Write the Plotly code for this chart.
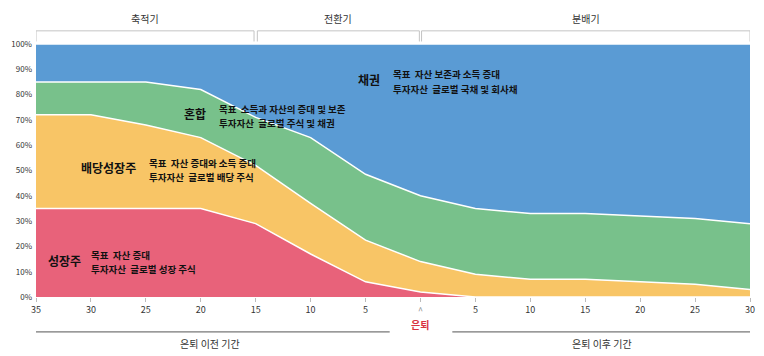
import plotly.graph_objects as go

# x positions: negative = years before retirement, positive = years after
x_vals = [-35, -30, -25, -20, -15, -10, -5, 0, 5, 10, 15, 20, 25, 30]
tick_text = ["35", "30", "25", "20", "15", "10", "5", "", "5", "10", "15", "20", "25", "30"]

growth = [35, 35, 35, 35, 29, 17, 6, 2, 0, 0, 0, 0, 0, 0]            # 성장주
dividend = [37, 37, 33, 28, 23, 20, 16.5, 12, 9, 7, 7, 6, 5, 3]     # 배당성장주
mixed = [13, 13, 17, 19, 19, 26, 26, 26, 26, 26, 26, 26, 26, 26]    # 혼합
bonds = [15, 15, 15, 18, 29, 37, 51.5, 60, 65, 67, 67, 68, 69, 71]  # 채권

series_names = ["성장주", "배당성장주", "혼합", "채권"]
series_vals = [growth, dividend, mixed, bonds]
colors = ["#e8627a", "#f8c566", "#78c18b", "#5a9bd4"]

phases = [("축적기", -35, -15.15), ("전환기", -14.85, -0.1), ("분배기", 0.1, 30)]

FONT = "Noto Sans CJK KR"

fig = go.Figure()
for name, vals, col in zip(series_names, series_vals, colors):
    fig.add_trace(go.Scatter(
        x=x_vals, y=vals, name=name, mode="lines", stackgroup="one",
        line=dict(color="white", width=1.5), fillcolor=col, hoverinfo="skip"))

shapes = []
annotations = []
# phase brackets on top
for label, a, b in phases:
    shapes.append(dict(type="path", xref="x", yref="paper",
                       path=f"M {a},1.01 L {a},1.052 L {b},1.052 L {b},1.01",
                       line=dict(color="#c4c4c4", width=1)))
    annotations.append(dict(x=(a + b) / 2, y=1.10, xref="x", yref="paper",
                            text=label, showarrow=False, yanchor="middle", borderpad=0,
                            font=dict(family=FONT, size=10, color="#333")))

# bottom period lines
shapes.append(dict(type="line", xref="x", yref="paper", x0=-35.55, x1=-2.8, y0=-0.138, y1=-0.138,
                   line=dict(color="#555", width=1)))
shapes.append(dict(type="line", xref="x", yref="paper", x0=2.9, x1=30.2, y0=-0.138, y1=-0.138,
                   line=dict(color="#555", width=1)))
annotations.append(dict(x=-19.2, y=-0.185, xref="x", yref="paper", text="은퇴 이전 기간",
                        showarrow=False, yanchor="middle", borderpad=0,
                        font=dict(family=FONT, size=10, color="#333")))
annotations.append(dict(x=16.5, y=-0.185, xref="x", yref="paper", text="은퇴 이후 기간",
                        showarrow=False, yanchor="middle", borderpad=0,
                        font=dict(family=FONT, size=10, color="#333")))
annotations.append(dict(x=0, y=-0.052, xref="x", yref="paper", text="^",
                        showarrow=False, yanchor="middle", borderpad=0,
                        font=dict(family=FONT, size=9, color="#888")))
annotations.append(dict(x=0, y=-0.107, xref="x", yref="paper", text="<b>은퇴</b>",
                        showarrow=False, yanchor="middle", borderpad=0,
                        font=dict(family=FONT, size=10, color="#d9333f")))

# in-chart labels
labels = [
    ("채권", -5.8, 86.0, "목표  자산 보존과 소득 증대", "투자자산  글로벌 국채 및 회사채", -2.6),
    ("혼합", -21.6, 72.5, "목표  소득과 자산의 증대 및 보존", "투자자산  글로벌 주식 및 채권", -18.4),
    ("배당성장주", -31.0, 51.0, "목표  자산 증대와 소득 증대", "투자자산  글로벌 배당 주식", -24.8),
    ("성장주", -34.0, 14.5, "목표  자산 증대", "투자자산  글로벌 성장 주식", -30.1),
]
for big, bx, by, l1, l2, tx in labels:
    annotations.append(dict(x=bx, y=by, xref="x", yref="y", text=f"<b>{big}</b>",
                            showarrow=False, xanchor="left", yanchor="middle", borderpad=0,
                            font=dict(family=FONT, size=12, color="#111")))
    for txt, dy in ((l1, 2.0), (l2, -3.6)):
        annotations.append(dict(x=tx, y=by + dy, xref="x", yref="y",
                                text=f"<b>{txt}</b>", align="left",
                                showarrow=False, xanchor="left", yanchor="middle", borderpad=0,
                                font=dict(family=FONT, size=9.5, color="#111")))

fig.update_layout(
    width=764, height=356,
    margin=dict(l=36, r=14, t=44, b=59),
    paper_bgcolor="white", plot_bgcolor="white",
    showlegend=False,
    font=dict(family=FONT, color="#333"),
    shapes=shapes, annotations=annotations,
    xaxis=dict(range=[-35, 30], tickvals=x_vals, ticktext=tick_text, showgrid=False,
               zeroline=False, showline=False, ticks="outside", ticklen=4,
               tickcolor="#bbb", automargin=False,
               tickfont=dict(size=9, color="#333", family=FONT)),
    yaxis=dict(range=[0, 100], tickvals=list(range(0, 101, 10)),
               ticktext=[f"{v}%" for v in range(0, 101, 10)], showgrid=False,
               zeroline=False, showline=False, ticks="", ticklabelstandoff=3,
               automargin=False,
               tickfont=dict(size=8, color="#333", family=FONT)),
)

fig.write_html("out.html", config={"displayModeBar": False},
               post_script="document.body.style.margin='0';document.body.style.overflow='hidden';")
